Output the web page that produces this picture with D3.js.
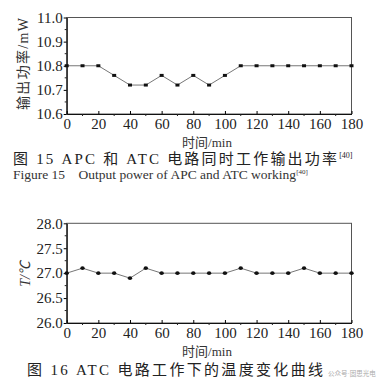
<!DOCTYPE html>
<html>
<head>
  <style>
    body, html { margin: 0; padding: 0; background: #fff; }
    svg { display: block; }
  </style>
</head>
<body>
  <svg id="svg" width="377" height="383"></svg>
  <script src="https://d3js.org/d3.v7.min.js"></script>
  <script>
    // data
    const times = [0, 10, 20, 30, 40, 50, 60, 70, 80, 90, 100, 110, 120, 130, 140, 150, 160, 170, 180]
    const power = [10.8, 10.8, 10.8, 10.76, 10.72, 10.72, 10.76, 10.72, 10.76, 10.72, 10.76, 10.8, 10.8, 10.8, 10.8, 10.8, 10.8, 10.8, 10.8]
    const temp = [27.0, 27.1, 27.0, 27.0, 26.9, 27.1, 27.0, 27.0, 27.0, 27.0, 27.0, 27.1, 27.0, 27.0, 27.0, 27.1, 27.0, 27.0, 27.0]
    const xTicks = [0, 20, 40, 60, 80, 100, 120, 140, 160, 180]
    const powerTicks = [10.6, 10.7, 10.8, 10.9, 11.0]
    const tempTicks = [26.0, 26.5, 27.0, 27.5, 28.0]

    const serif = "Liberation Serif, Times New Roman, Tinos, DejaVu Serif, serif"
    const cjk = "Liberation Serif, Times New Roman, Noto Sans CJK SC, serif"
    const svg = d3.select("#svg")

    function drawChart(opt) {
      const x = d3.scaleLinear().domain([0, 180]).range([66.7, 351.5])
      const y = d3.scaleLinear().domain(opt.domain).range([opt.bottom, opt.top])
      const g = svg.append("g")

      // frame top/right
      g.append("rect")
        .attr("x", x(0)).attr("y", opt.top)
        .attr("width", x(180) - x(0)).attr("height", opt.bottom - opt.top)
        .attr("fill", "none").attr("stroke", "#555").attr("stroke-width", 1)

      const yAxis = d3.axisLeft(y).tickValues(opt.ticks).tickFormat(d3.format(opt.fmt))
        .tickSizeInner(3).tickSizeOuter(0).tickPadding(1)
      const ya = g.append("g").attr("transform", `translate(${x(0)},0)`).call(yAxis)
      ya.attr("font-family", serif).attr("font-size", 15)
      ya.selectAll("text").attr("font-family", serif).style("font-family", serif).attr("fill", "#222")
      ya.select(".domain").attr("stroke", "#111").attr("stroke-width", 1.2)

      // minor y ticks
      const minor = d3.range(0, opt.ticks.length - 1).map(i => (opt.ticks[i] + opt.ticks[i + 1]) / 2)
      g.selectAll(".ym").data(minor).join("line")
        .attr("x1", x(0) - 2).attr("x2", x(0))
        .attr("y1", d => y(d)).attr("y2", d => y(d))
        .attr("stroke", "#222")

      const xAxis = d3.axisBottom(x).tickValues(xTicks).tickSizeInner(-3).tickSizeOuter(0).tickPadding(4)
      const xa = g.append("g").attr("transform", `translate(0,${opt.bottom})`).call(xAxis)
      xa.attr("font-family", serif).attr("font-size", 15)
      xa.selectAll("text").attr("font-family", serif).style("font-family", serif).attr("fill", "#222")
      xa.select(".domain").attr("stroke", "#111").attr("stroke-width", 1.2)
      g.selectAll(".xm").data(d3.range(10, 180, 20)).join("line")
        .attr("x1", d => x(d)).attr("x2", d => x(d))
        .attr("y1", opt.bottom).attr("y2", opt.bottom + 2)
        .attr("stroke", "#222")

      const line = d3.line().x((d, i) => x(times[i])).y(d => y(d))
      g.append("path").attr("d", line(opt.values))
        .attr("fill", "none").attr("stroke", "#666").attr("stroke-width", 0.9)

      if (opt.marker === "square") {
        g.selectAll(".pt").data(opt.values).join("rect")
          .attr("x", (d, i) => x(times[i]) - 2).attr("y", d => y(d) - 1.5)
          .attr("width", 4).attr("height", 3).attr("fill", "#111")
      } else {
        g.selectAll(".pt").data(opt.values).join("ellipse")
          .attr("cx", (d, i) => x(times[i])).attr("cy", d => y(d))
          .attr("rx", 2.2).attr("ry", 1.8).attr("fill", "#111")
      }

      // axis titles
      g.append("text").attr("x", 207).attr("y", opt.bottom + 33)
        .attr("text-anchor", "middle").style("font-family", cjk).attr("font-size", 13).attr("fill", "#333")
        .text("时间/min")
      const yl = g.append("text")
        .attr("transform", `translate(${opt.yLabelX},${opt.yLabelY}) rotate(-90)`)
        .attr("text-anchor", "middle").style("font-family", cjk).attr("font-size", 14).attr("fill", "#333")
        .attr("font-style", opt.italic ? "italic" : "normal")
        .text(opt.yLabel)
      if (opt.yLabelLen) yl.attr("textLength", opt.yLabelLen).attr("lengthAdjust", "spacing")
    }

    drawChart({ domain: [10.6, 11.0], top: 17.5, bottom: 114, ticks: powerTicks, fmt: ".1f",
      values: power, marker: "square", yLabel: "输出功率/mW", yLabelX: 28, yLabelY: 64, yLabelLen: 92 })
    drawChart({ domain: [26.0, 28.0], top: 223.3, bottom: 323, ticks: tempTicks, fmt: ".1f",
      values: temp, marker: "circle", yLabel: "T/℃", yLabelX: 30, yLabelY: 274, italic: true })

    // captions
    const cap1 = svg.append("text").attr("x", 13).attr("y", 164)
      .style("font-family", cjk).attr("font-size", 15).attr("fill", "#222")
    cap1.append("tspan").text("图 15   APC 和 ATC 电路同时工作输出功率")
      .attr("textLength", 324).attr("lengthAdjust", "spacing")
    cap1.append("tspan").attr("dy", -6).attr("font-size", 8).text("[40]")

    const cap2 = svg.append("text").attr("x", 13).attr("y", 179)
      .style("font-family", serif).attr("font-size", 13.5).attr("fill", "#333")
      .attr("xml:space", "preserve")
    cap2.append("tspan").text("Figure 15    Output power of APC and ATC working")
    cap2.append("tspan").attr("dy", -5).attr("font-size", 7).text("[40]")

    svg.append("text").attr("x", 27).attr("y", 375)
      .style("font-family", cjk).attr("font-size", 15).attr("fill", "#222")
      .attr("textLength", 296).attr("lengthAdjust", "spacing")
      .text("图 16   ATC 电路工作下的温度变化曲线")

    svg.append("text").attr("x", 328).attr("y", 376)
      .style("font-family", cjk).attr("font-size", 6.5).attr("fill", "#aaa")
      .text("公众号·固思光电")
  </script>
</body>
</html>
